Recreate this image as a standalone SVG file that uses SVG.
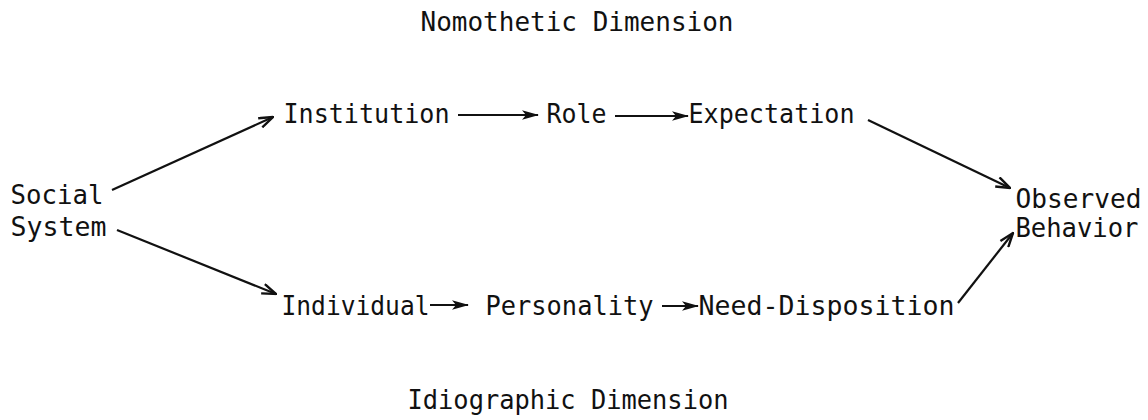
<svg xmlns="http://www.w3.org/2000/svg" width="1148" height="420" viewBox="0 0 1148 420">
  <style>
    text { font-family: "DejaVu Sans Mono", "Liberation Mono", monospace; font-size: 27px; fill: #111; }
    .conn { stroke: #111; stroke-width: 2.2; fill: none; }
    .filled { marker-end: url(#headFilled); }
    .open { marker-end: url(#headOpen); }
  </style>
  <defs>
    <marker id="headFilled" markerUnits="userSpaceOnUse" viewBox="0 0 17 11" refX="16" refY="5.5" markerWidth="17" markerHeight="11" orient="auto">
      <path d="M0,0.8 L17,5.5 L0,10.2 L4,5.5 z" fill="#111"/>
    </marker>
    <marker id="headOpen" markerUnits="userSpaceOnUse" viewBox="0 0 16 12" refX="15" refY="6" markerWidth="16" markerHeight="12" orient="auto">
      <path d="M1,1 L15,6 L1,11" fill="none" stroke="#111" stroke-width="2.4" stroke-linejoin="miter"/>
    </marker>
  </defs>
  <rect width="1148" height="420" fill="#fff"/>

  <g id="label-nomothetic"><text x="420.5" y="31" textLength="313" lengthAdjust="spacingAndGlyphs">Nomothetic Dimension</text></g>
  <g id="label-idiographic"><text x="407.5" y="409" textLength="321" lengthAdjust="spacingAndGlyphs">Idiographic Dimension</text></g>

  <g id="node-social-system">
    <text x="10.5" y="204" textLength="93" lengthAdjust="spacingAndGlyphs">Social</text>
    <text x="10.5" y="236" textLength="96" lengthAdjust="spacingAndGlyphs">System</text>
  </g>
  <g id="node-institution"><text x="283.5" y="123" textLength="166" lengthAdjust="spacingAndGlyphs">Institution</text></g>
  <g id="node-role"><text x="546.5" y="123" textLength="60" lengthAdjust="spacingAndGlyphs">Role</text></g>
  <g id="node-expectation"><text x="688.5" y="123" textLength="166" lengthAdjust="spacingAndGlyphs">Expectation</text></g>
  <g id="node-individual"><text x="281.5" y="315" textLength="148" lengthAdjust="spacingAndGlyphs">Individual</text></g>
  <g id="node-personality"><text x="485.5" y="315" textLength="168" lengthAdjust="spacingAndGlyphs">Personality</text></g>
  <g id="node-need-disposition"><text x="698.5" y="315" textLength="256" lengthAdjust="spacingAndGlyphs">Need-Disposition</text></g>
  <g id="node-observed-behavior">
    <text x="1015.5" y="208" textLength="126" lengthAdjust="spacingAndGlyphs">Observed</text>
    <text x="1015.5" y="237" textLength="123" lengthAdjust="spacingAndGlyphs">Behavior</text>
  </g>

  <g id="connectors">
    <line class="conn open" x1="112" y1="190" x2="273" y2="117"/>
    <line class="conn open" x1="117" y1="230" x2="276" y2="294"/>
    <line class="conn filled" x1="458" y1="115" x2="538" y2="115"/>
    <line class="conn filled" x1="615" y1="116" x2="688" y2="116"/>
    <line class="conn filled" x1="430" y1="305" x2="468" y2="305"/>
    <line class="conn filled" x1="662" y1="306" x2="698" y2="306"/>
    <line class="conn open" x1="868" y1="120" x2="1010" y2="188"/>
    <line class="conn open" x1="958" y1="303" x2="1013" y2="233"/>
  </g>
</svg>
